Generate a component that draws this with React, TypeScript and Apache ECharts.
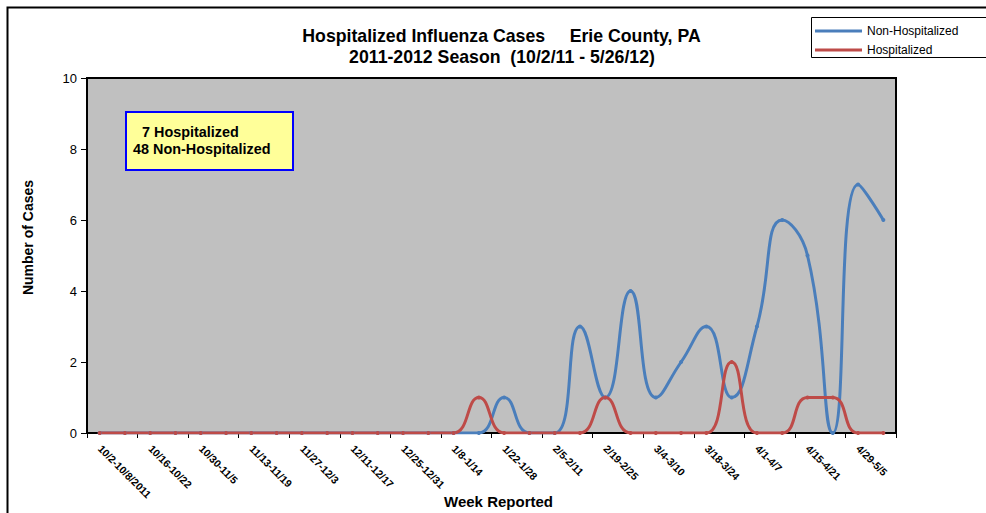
import React, { useEffect, useRef } from "react";
import * as echarts from "echarts";

const weeks: string[] = [
  "10/2-10/8/2011", "10/9-10/15", "10/16-10/22", "10/23-10/29", "10/30-11/5",
  "11/6-11/12", "11/13-11/19", "11/20-11/26", "11/27-12/3", "12/4-12/10",
  "12/11-12/17", "12/18-12/24", "12/25-12/31", "1/1-1/7", "1/8-1/14",
  "1/15-1/21", "1/22-1/28", "1/29-2/4", "2/5-2/11", "2/12-2/18",
  "2/19-2/25", "2/26-3/3", "3/4-3/10", "3/11-3/17", "3/18-3/24",
  "3/25-3/31", "4/1-4/7", "4/8-4/14", "4/15-4/21", "4/22-4/28",
  "4/29-5/5", "5/6-5/12",
];

const nonHospitalized: number[] = [
  0, 0, 0, 0, 0, 0, 0, 0, 0, 0, 0, 0, 0, 0, 0,
  0, 1, 0, 0, 3, 1, 4, 1, 2, 3, 1, 3, 6, 5, 0, 7, 6,
];

const hospitalized: number[] = [
  0, 0, 0, 0, 0, 0, 0, 0, 0, 0, 0, 0, 0, 0, 0,
  1, 0, 0, 0, 0, 1, 0, 0, 0, 0, 2, 0, 0, 1, 1, 0, 0,
];

const titleLines: string[] = [
  "Hospitalized Influenza Cases     Erie County, PA",
  "2011-2012 Season  (10/2/11 - 5/26/12)",
];

const noteLines: string[] = ["7 Hospitalized", "48 Non-Hospitalized"];

const FONT = "'Liberation Sans', Arial, sans-serif";
const BLUE = "#4A7EBB";
const RED = "#BE4B48";

export default function App() {
  const ref = useRef<HTMLDivElement>(null);

  useEffect(() => {
    if (!ref.current) return;
    const chart = echarts.init(ref.current, undefined, { renderer: "svg" });
    chart.setOption({
      animation: false,
      backgroundColor: "#ffffff",
      textStyle: { fontFamily: FONT },
      grid: {
        left: 87,
        right: 90,
        top: 78,
        bottom: 80,
        outerBoundsMode: "none",
        containLabel: false,
        show: true,
        backgroundColor: "#C0C0C0",
        borderColor: "#000000",
        borderWidth: 2,
      },
      legend: {
        left: 815,
        top: 25,
        orient: "vertical",
        icon: "rect",
        itemWidth: 47,
        itemHeight: 3,
        itemGap: 7,
        padding: 0,
        textStyle: { fontFamily: FONT, fontSize: 12, color: "#000" },
        data: ["Non-Hospitalized", "Hospitalized"],
      },
      xAxis: {
        type: "category",
        data: weeks,
        boundaryGap: true,
        name: "Week Reported",
        nameLocation: "middle",
        nameGap: 61,
        nameMoveOverlap: false,
        nameTextStyle: {
          fontFamily: FONT,
          fontSize: 15,
          fontWeight: "bold",
          color: "#000",
          padding: [0, 0, 0, 14],
        },
        axisLine: { lineStyle: { color: "#000", width: 2 } },
        axisTick: { show: true, length: 5, lineStyle: { color: "#000", width: 1 } },
        axisLabel: {
          interval: 1,
          rotate: -45,
          fontFamily: FONT,
          fontSize: 10.5,
          fontWeight: "bold",
          color: "#000",
          margin: 14,
        },
        splitLine: { show: false },
      },
      yAxis: {
        type: "value",
        min: 0,
        max: 10,
        interval: 2,
        name: "Number of Cases",
        nameLocation: "middle",
        nameGap: 52,
        nameMoveOverlap: false,
        nameTextStyle: {
          fontFamily: FONT,
          fontSize: 14,
          fontWeight: "bold",
          color: "#000",
          padding: [0, 0, 0, 36],
        },
        axisLine: { show: true, lineStyle: { color: "#000", width: 2 } },
        axisTick: { show: true, length: 6, lineStyle: { color: "#000", width: 1 } },
        axisLabel: { fontFamily: FONT, fontSize: 13, color: "#000", margin: 10 },
        splitLine: { show: false },
      },
      series: [
        {
          name: "Non-Hospitalized",
          type: "line",
          data: nonHospitalized,
          smooth: 0.5,
          symbol: "circle",
          symbolSize: 4,
          showSymbol: true,
          lineStyle: { color: BLUE, width: 3 },
          itemStyle: { color: BLUE },
        },
        {
          name: "Hospitalized",
          type: "line",
          data: hospitalized,
          smooth: 0.5,
          symbol: "circle",
          symbolSize: 4,
          showSymbol: true,
          lineStyle: { color: RED, width: 3 },
          itemStyle: { color: RED },
        },
      ],
      graphic: [
        {
          type: "rect",
          silent: true,
          z: -1,
          shape: { x: 7.5, y: 7.5, width: 1100, height: 1100 },
          style: { fill: "none", stroke: "#000", lineWidth: 2 },
        },
        {
          type: "rect",
          silent: true,
          z: 0,
          shape: { x: 811.5, y: 17.5, width: 200, height: 40 },
          style: { fill: "#fff", stroke: "#000", lineWidth: 1 },
        },
        {
          type: "text",
          x: 501.5,
          y: 36,
          style: {
            text: titleLines[0],
            fontFamily: FONT,
            fontSize: 17.7,
            fontWeight: "bold",
            fill: "#000",
            align: "center",
            verticalAlign: "middle",
          },
        },
        {
          type: "text",
          x: 502,
          y: 57,
          style: {
            text: titleLines[1],
            fontFamily: FONT,
            fontSize: 17.7,
            fontWeight: "bold",
            fill: "#000",
            align: "center",
            verticalAlign: "middle",
          },
        },
        {
          type: "rect",
          z: 10,
          shape: { x: 126, y: 112, width: 167, height: 58 },
          style: { fill: "#FFFF99", stroke: "#0000FF", lineWidth: 2 },
        },
        {
          type: "text",
          z: 11,
          x: 142,
          y: 132,
          style: {
            text: noteLines[0],
            fontFamily: FONT,
            fontSize: 14.4,
            fontWeight: "bold",
            fill: "#000",
            align: "left",
            verticalAlign: "middle",
          },
        },
        {
          type: "text",
          z: 11,
          x: 133,
          y: 149,
          style: {
            text: noteLines[1],
            fontFamily: FONT,
            fontSize: 14.4,
            fontWeight: "bold",
            fill: "#000",
            align: "left",
            verticalAlign: "middle",
          },
        },
      ],
    });
    return () => chart.dispose();
  }, []);

  return (
    <div
      ref={ref}
      style={{ position: "absolute", left: 0, top: 0, width: 986, height: 513 }}
    />
  );
}
